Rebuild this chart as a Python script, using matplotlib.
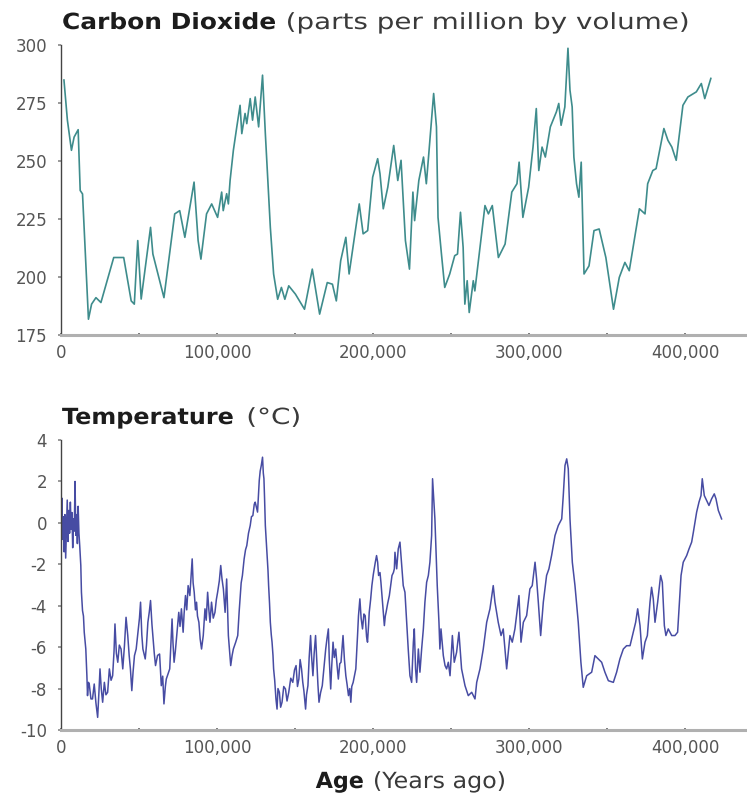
import matplotlib
matplotlib.use("Agg")
import matplotlib.pyplot as plt
from matplotlib.ticker import MultipleLocator, FuncFormatter
from matplotlib.patheffects import AbstractPathEffect
from matplotlib.transforms import Affine2D

# ---------------- data (years ago in thousands) ----------------
co2_age_k = [1.9, 4.1, 6.7, 8.4, 11.0, 12.3, 13.8, 17.6, 19.6, 22.4, 25.6, 33.8, 40.2, 45.0, 47.0,
             49.2, 51.4, 57.4, 58.9, 66.0, 72.9, 76.1, 79.4, 85.3, 87.9, 89.7, 93.3, 96.6, 100.4,
             103.0, 104.0, 106.2, 107.3, 108.4, 110.5, 112.7, 114.8, 115.9, 118.0, 119.1, 121.3,
             122.8, 124.5, 126.7, 129.2, 131.0, 134.2, 136.3, 138.9, 141.3, 143.5, 146.0, 150.3,
             156.1, 161.1, 165.8, 170.7, 174.0, 176.5, 179.3, 182.6, 184.7, 191.2, 193.7, 196.6,
             199.8, 203.0, 204.5, 206.6, 209.5, 213.3, 215.9, 218.0, 220.8, 223.4, 225.6, 226.7,
             229.4, 232.4, 234.2, 235.7, 238.9, 240.7, 241.7, 243.9, 246.0, 249.2, 252.4, 254.2,
             256.1, 257.8, 258.9, 260.4, 261.7, 264.3, 265.3, 271.8, 274.0, 276.5, 280.4, 284.7,
             289.0, 292.3, 293.7, 296.1, 299.8, 302.6, 304.7, 306.3, 308.4, 310.5, 313.7, 317.6,
             319.1, 320.6, 323.0, 325.0, 326.3, 327.7, 328.8, 330.5, 332.0, 333.5, 335.3, 338.5,
             341.7, 345.0, 349.3, 354.2, 357.9, 361.5, 364.3, 370.8, 374.4, 376.1, 379.4, 381.5,
             386.5, 389.1, 391.6, 394.4, 398.7, 401.9, 407.3, 410.5, 412.7, 416.6]
co2_ppm = [284.9, 267.6, 254.6, 260.3, 263.5, 237.3, 235.8, 181.8, 188.3, 191.1, 189.0, 208.4, 208.4,
           189.7, 188.3, 215.7, 190.5, 221.4, 209.9, 191.1, 227.2, 228.6, 217.1, 240.9, 215.7, 207.7,
           227.2, 231.5, 225.7, 236.6, 228.6, 235.9, 231.5, 241.6, 254.6, 264.7, 274.0, 261.8, 270.5,
           266.1, 276.9, 267.6, 277.6, 264.7, 287.0, 261.8, 221.4, 201.3, 190.4, 195.5, 190.4, 196.2,
           192.6, 186.1, 203.4, 184.0, 197.6, 196.9, 189.7, 207.0, 217.1, 201.3, 231.5, 218.6, 220.0,
           243.0, 251.0, 244.5, 229.4, 238.7, 256.7, 241.6, 250.3, 215.7, 203.4, 236.6, 224.3, 241.6,
           251.7, 240.2, 252.4, 279.1, 264.7, 225.7, 209.9, 195.5, 201.3, 209.2, 209.9, 227.9, 212.8,
           188.3, 198.4, 184.7, 198.4, 194.0, 230.8, 227.2, 230.8, 208.4, 214.2, 236.6, 240.2, 249.5,
           225.7, 238.7, 256.0, 272.6, 245.9, 256.0, 251.7, 264.7, 271.2, 274.8, 265.4, 273.3, 298.6,
           280.5, 273.3, 251.7, 240.2, 234.4, 249.5, 201.3, 204.8, 220.0, 220.7, 208.4, 186.1, 199.8,
           206.3, 202.7, 229.4, 227.2, 240.2, 245.9, 246.7, 264.0, 258.9, 256.0, 250.3, 274.0, 277.6,
           279.8, 283.4, 276.9, 285.6]

temp_age_k = [0.1, 0.5, 1.0, 1.5, 2.0, 2.5, 3.0, 3.5, 4.0, 4.5, 5.0, 5.5, 6.0, 6.5, 7.0, 7.5, 8.0,
              8.5, 9.0, 9.5, 10.0, 10.5, 11.0, 11.5, 12.0, 12.7, 13.1, 13.8, 14.4, 14.9, 15.9, 16.6,
              17.0, 17.6, 18.1, 19.2, 20.2, 21.3, 22.4, 23.5, 24.3, 25.0, 25.8, 26.7, 27.8, 28.8,
              29.9, 31.0, 32.1, 33.1, 34.0, 34.6, 35.5, 36.4, 37.4, 38.5, 39.6, 40.7, 41.7, 42.8,
              43.7, 44.5, 45.4, 46.2, 47.1, 48.2, 49.3, 50.3, 51.0, 51.8, 52.5, 54.0, 54.8, 55.7,
              56.6, 57.4, 58.3, 58.9, 59.8, 60.6, 61.9, 63.2, 64.3, 65.2, 66.0, 66.9, 67.5, 68.6,
              69.7, 70.5, 71.2, 71.8, 72.5, 73.3, 74.0, 74.8, 75.5, 76.3, 77.2, 78.3, 78.9, 79.8,
              80.6, 81.5, 82.6, 83.4, 84.1, 84.7, 85.4, 86.2, 86.9, 87.5, 88.4, 89.2, 90.1, 91.2,
              92.3, 93.1, 94.0, 94.8, 95.5, 96.5, 97.6, 98.7, 99.6, 100.4, 101.5, 102.4, 103.2,
              104.1, 105.2, 106.2, 106.9, 107.3, 108.2, 108.8, 109.7, 110.5, 112.0, 113.3, 114.2,
              114.8, 115.5, 116.3, 117.4, 118.3, 119.1, 120.2, 121.3, 122.1, 123.0, 123.9, 124.5,
              125.4, 126.0, 126.7, 127.1, 127.7, 128.4, 129.2, 129.7, 130.1, 130.5, 131.0, 131.6,
              132.0, 132.7, 133.1, 133.7, 134.2, 134.8, 135.3, 135.9, 136.3, 137.0, 137.4, 137.8,
              138.5, 139.1, 140.0, 140.8, 141.7, 142.8, 143.9, 144.9, 146.0, 147.3, 148.6, 149.7,
              150.7, 151.6, 152.5, 153.3, 154.2, 155.0, 155.7, 156.8, 157.4, 158.3, 159.1, 160.0,
              160.6, 161.5, 162.3, 163.2, 164.1, 164.7, 165.4, 166.4, 167.5, 168.6, 169.7, 170.5,
              171.4, 172.0, 172.9, 173.5, 174.4, 175.2, 176.1, 177.0, 177.8, 178.7, 179.5, 180.2,
              180.8, 181.7, 182.6, 183.4, 184.3, 185.1, 185.8, 186.4, 187.3, 188.1, 189.0, 189.6,
              190.1, 190.7, 191.6, 192.4, 193.3, 194.2, 195.0, 195.9, 196.5, 197.2, 197.6, 198.5,
              199.3, 200.2, 200.8, 201.5, 202.3, 203.0, 203.6, 204.5, 205.1, 206.2, 207.3, 207.9,
              208.4, 209.4, 210.5, 211.4, 212.2, 213.1, 213.7,
              214.1, 215.2, 216.2, 217.3, 218.4, 219.4, 220.5, 221.6, 222.6, 223.7, 224.8, 225.9,
              226.5, 227.3, 228.0, 229.1, 230.1, 231.2, 232.3, 233.3, 234.4, 235.5, 236.5, 237.6,
              238.2, 239.1, 239.7, 240.4, 241.2, 242.3, 242.9, 243.6, 245.1, 246.2, 247.2, 248.3,
              249.4, 250.9, 252.1, 253.6, 255.1, 256.8, 259.0, 261.1, 263.3, 265.4, 266.5, 268.6,
              270.7, 272.9, 275.0, 277.1, 278.2, 280.3, 282.1, 283.5, 285.7, 287.8, 289.3, 291.0,
              293.6, 294.9, 296.4, 298.5, 300.6, 302.1, 303.9, 304.9, 306.0, 307.5, 309.2, 311.3,
              312.8, 314.5, 316.7, 318.8, 321.0, 322.0, 323.1, 324.2, 325.2, 326.3, 327.8, 329.5,
              331.6, 333.3, 334.8, 337.0, 340.2, 342.3, 344.5, 346.6, 348.7, 350.9, 354.1, 356.2,
              358.3, 360.5, 362.6, 364.8, 366.9, 368.4, 369.7, 371.2, 372.7, 374.4, 375.9, 377.6,
              378.6, 379.7, 380.8, 382.5, 384.4, 385.5, 386.8, 387.8, 389.3, 391.5, 393.6, 395.3,
              396.2, 397.5, 398.9, 401.1, 402.6, 404.3, 405.4, 407.5, 409.0, 410.3, 411.1, 412.4,
              413.9, 415.4, 417.1, 418.8, 419.9, 421.4, 423.5]
temp_c = [-0.6, 1.2, -0.8, 0.3, -1.4, 0.4, -1.7, -0.2, 1.1, -0.9, 0.6, -0.5, 1.0, -0.3, 0.5, -1.2,
          0.2, -0.4, 2.0, -0.6, 0.4, -1.0, 0.8, -0.5, -1.1, -2.06, -3.35, -4.24, -4.5, -5.28, -6.09,
          -7.38, -8.34, -7.7, -7.78, -8.5, -8.5, -7.78, -8.7, -9.39, -8.2, -7.05, -8.0, -8.66, -7.7,
          -8.3, -8.18, -7.05, -7.6, -7.38, -6.2, -4.88, -6.3, -6.73, -5.9, -6.09, -7.05, -5.9, -4.56,
          -5.44, -6.4, -7.05, -8.1, -7.2, -6.41, -6.09, -5.3, -4.6, -3.83, -5.4, -6.09, -6.57, -5.9,
          -4.80, -4.3, -3.75, -4.9, -5.44, -6.3, -6.89, -6.4, -6.33, -7.86, -7.4, -8.74, -7.9, -7.54,
          -7.3, -7.05, -5.8, -4.64, -5.8, -6.73, -6.2, -5.60, -4.9, -4.32, -5.0, -4.15, -5.28, -4.4,
          -3.51, -4.2, -3.03, -3.51, -2.6, -1.74, -2.9, -3.35, -4.2, -3.83, -4.5, -4.80, -5.6, -6.09,
          -5.44, -4.15, -4.7, -3.35, -4.2, -4.80, -3.83, -4.6, -4.32, -3.7, -3.35, -2.8, -2.06, -2.7,
          -3.19, -4.32, -2.71, -4.4, -5.44, -6.3, -6.89, -6.4, -6.09, -5.76, -5.44, -4.3, -3.67,
          -2.9, -2.54, -1.74, -1.3, -1.10, -0.5, -0.13, 0.3, 0.35, 0.9, 1.00, 0.7, 0.52, 1.5, 2.05,
          2.5, 2.77, 3.17, 2.4, 2.13, 1.2, -0.13, -0.9, -1.42, -2.3, -3.03, -3.9, -4.80, -5.4, -5.76,
          -6.4, -7.05, -7.6, -8.02, -8.5, -8.99, -8.0, -8.18, -8.9, -8.66, -7.9, -8.02, -8.6, -8.18,
          -7.5, -7.70, -7.1, -6.89, -7.9, -7.54, -6.6, -7.05, -7.7, -8.10, -8.99, -8.3, -7.86, -6.5,
          -5.44, -6.4, -7.38, -6.3, -5.44, -6.9, -7.8, -8.66, -8.2, -7.86, -7.0, -6.09, -5.6, -5.12,
          -6.6, -8.02, -7.0, -5.76, -6.5, -6.09, -6.9, -7.54, -6.8, -6.73, -6.0, -5.44, -6.6, -7.38,
          -7.8, -8.34, -8.0, -8.66, -7.9, -7.70, -7.4, -7.05, -6.2, -5.44, -4.5, -3.67, -4.6, -5.12,
          -4.4, -4.48, -5.5, -5.76, -4.9, -4.32, -3.7, -3.03, -2.5, -2.22, -1.9, -1.58, -1.9, -2.54,
          -2.4, -2.87, -3.9, -4.96, -4.5, -4.32, -3.9, -3.51, -3.0, -2.54, -2.4, -2.22,
          -1.42, -2.22, -1.26, -0.93, -2.06, -3.03, -3.35, -4.80, -6.09, -7.38, -7.70, -5.76,
          -5.12, -7.05, -7.70, -6.09, -7.21, -6.09, -5.12, -3.83, -2.87, -2.54, -1.90, -0.61,
          2.13, 1.00, 0.19, -1.26, -3.03, -4.80, -6.09, -5.12, -6.41, -6.89, -7.05, -6.73,
          -7.38, -5.44, -6.73, -6.25, -5.28, -7.05, -7.86, -8.34, -8.18, -8.50, -7.70, -7.05,
          -6.09, -4.80, -4.15, -3.03, -3.83, -4.80, -5.44, -5.12, -7.05, -5.44, -5.76, -5.12,
          -3.51, -5.76, -4.80, -4.48, -3.19, -3.03, -1.90, -2.71, -3.83, -5.44, -3.83, -2.54,
          -2.22, -1.58, -0.61, -0.13, 0.19, 1.32, 2.77, 3.09, 2.61, 0.19, -1.90, -3.03,
          -4.80, -6.73, -7.94, -7.38, -7.21, -6.41, -6.57, -6.73, -7.21, -7.62, -7.70, -7.21,
          -6.57, -6.09, -5.93, -5.93, -5.28, -4.80, -4.15, -4.96, -6.57, -5.76, -5.44, -3.83,
          -3.11, -3.67, -4.80, -3.83, -2.54, -2.87, -4.96, -5.44, -5.12, -5.44, -5.44, -5.28,
          -4.15, -2.54, -1.90, -1.58, -1.26, -0.93, -0.45, 0.52, 1.00, 1.32, 2.13, 1.32,
          1.08, 0.84, 1.16, 1.40, 1.16, 0.60, 0.19]

co2_yticks = [175, 200, 225, 250, 275, 300]
temp_yticks = [-10, -8, -6, -4, -2, 0, 2, 4]
x_ticks_k = [0, 100, 200, 300, 400]

# ---------------- figure ----------------
plt.rcParams['font.family'] = ['DejaVu Sans']
plt.rcParams['axes.unicode_minus'] = False
W, H = 747, 795
fig = plt.figure(figsize=(W / 100, H / 100), dpi=100)

def px_axes(x0, y0, x1, y1):
    return fig.add_axes([x0 / W, 1 - y1 / H, (x1 - x0) / W, (y1 - y0) / H])

ax1 = px_axes(61, 45, 745, 335)
ax2 = px_axes(61, 440, 745, 730)

co2_age = [a * 1000 for a in co2_age_k]
temp_age = [a * 1000 for a in temp_age_k]

ax1.plot(co2_age, co2_ppm, color='#3e8c8c', lw=1.2, solid_joinstyle='round')
ax2.plot(temp_age, temp_c, color='#474ca3', lw=1.1, solid_joinstyle='round')

fmt = FuncFormatter(lambda v, p: f"{int(round(v)):,}")
for ax, yt in ((ax1, co2_yticks), (ax2, temp_yticks)):
    ax.set_xlim(0, 438500)
    ax.set_ylim(yt[0], yt[-1])
    ax.set_yticks(yt)
    ax.set_xticks([k * 1000 for k in x_ticks_k])
    ax.xaxis.set_major_formatter(fmt)
    ax.xaxis.set_minor_locator(MultipleLocator(50000))
    for s in ('top', 'right'):
        ax.spines[s].set_visible(False)
    ax.spines['left'].set_color('#444444')
    ax.spines['left'].set_linewidth(1.0)
    ax.spines['bottom'].set_color('#b0b0b0')
    ax.spines['bottom'].set_linewidth(2.2)
    ax.tick_params(axis='y', length=2, width=1.2, color='#888888', pad=8,
                   labelsize=12, labelcolor='#555555')
    ax.tick_params(axis='x', which='both', direction='inout', length=3, width=1.2,
                   color='#666666', pad=5, labelsize=12, labelcolor='#555555')
    ax.patch.set_alpha(0)


class HStretch(AbstractPathEffect):
    """Stretch glyph outlines horizontally about a fixed display x (wide geometric look)."""
    def __init__(self, sx, x0):
        super().__init__()
        self.sx = sx
        self.x0 = x0

    def draw_path(self, renderer, gc, tpath, affine, rgbFace=None):
        aff = affine + Affine2D().translate(-self.x0, 0).scale(self.sx, 1).translate(self.x0, 0)
        renderer.draw_path(gc, tpath, aff, rgbFace)


fig.canvas.draw()
r = fig.canvas.get_renderer()


def text_width(s, size, weight):
    t = fig.text(0, 0, s, fontsize=size, fontweight=weight)
    w = t.get_window_extent(renderer=r).width
    t.remove()
    return w


def two_part(x_px, base_px, bold, rest, sb, sr, size=16, gap=9):
    yb = 1 - base_px / H
    fig.text(x_px / W, yb, bold, fontsize=size, fontweight='bold', color='#1c1c1c',
             ha='left', va='baseline', path_effects=[HStretch(sb, x_px)])
    x2 = x_px + text_width(bold, size, 'bold') * sb + gap
    fig.text(x2 / W, yb, rest, fontsize=size, color='#3a3a3a', ha='left',
             va='baseline', path_effects=[HStretch(sr, x2)])
    return x2 + text_width(rest, size, 'normal') * sr


two_part(62, 29, "Carbon Dioxide", "(parts per million by volume)", 1.12, 1.25)
two_part(62, 424, "Temperature", "(°C)", 1.075, 1.25, gap=12)

# centred x-axis label
sb, sr, gap = 1.0, 1.07, 9
tot = text_width("Age", 16, 'bold') * sb + gap + text_width("(Years ago)", 16, 'normal') * sr
two_part(411 - tot / 2, 788, "Age", "(Years ago)", sb, sr, gap=gap)

fig.savefig("out.png", dpi=100)
